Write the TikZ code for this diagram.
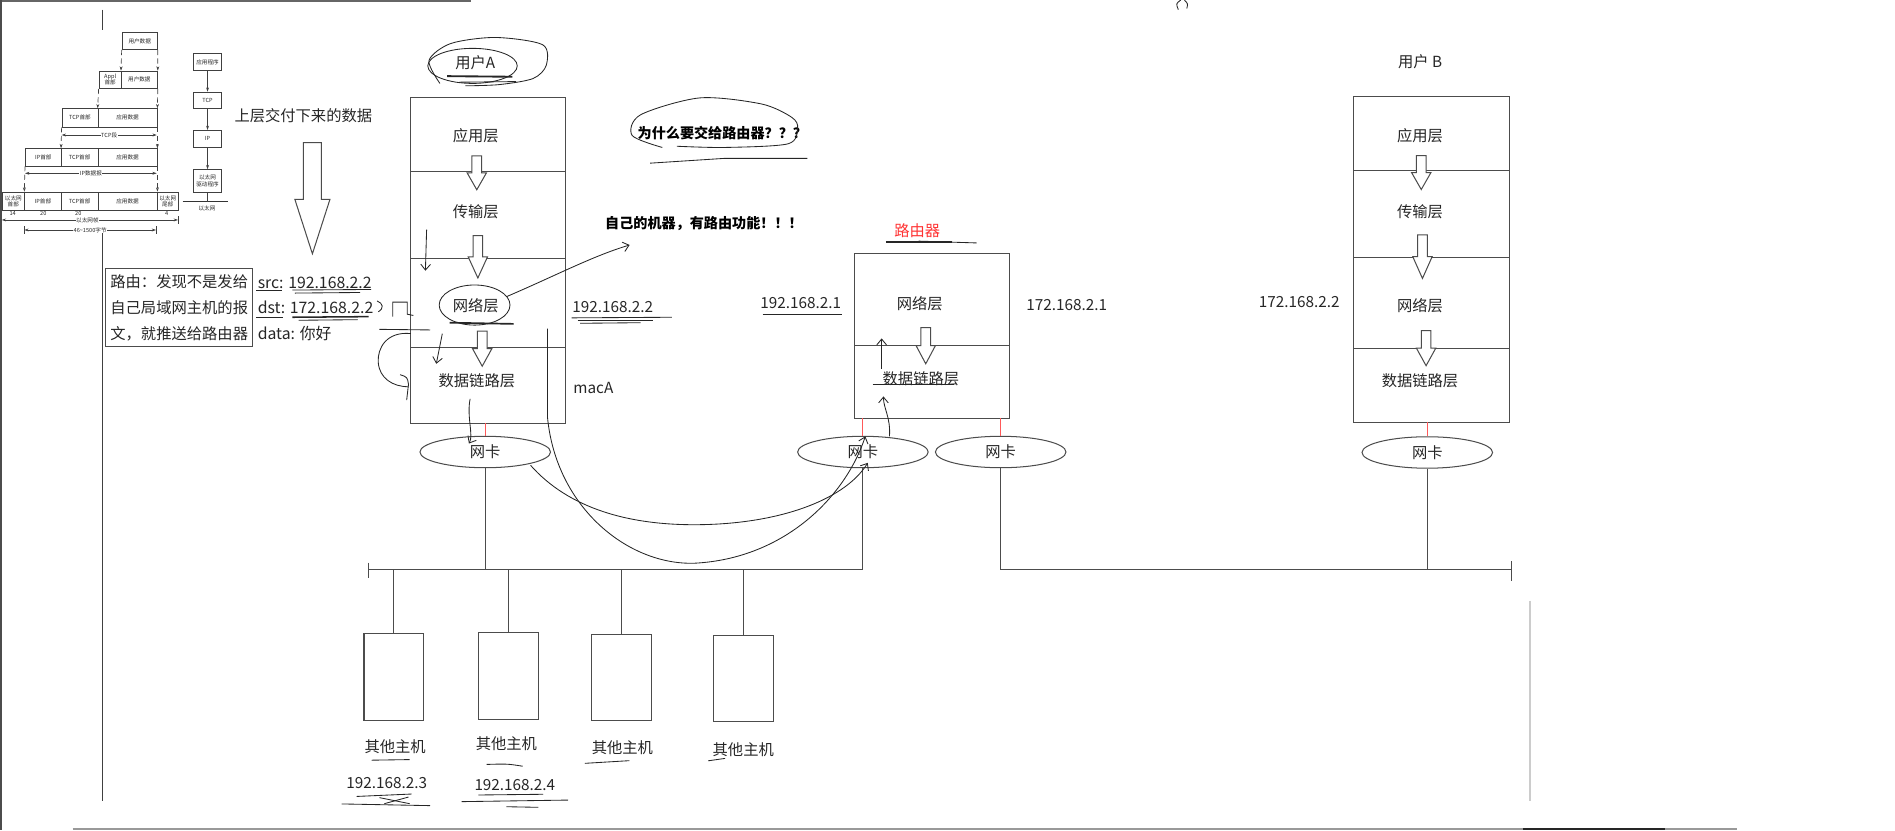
\documentclass[tikz,border=0pt]{standalone}
\usepackage{fontspec}
\setmainfont{Noto Sans CJK SC}
\usetikzlibrary{shapes.geometric,arrows.meta,positioning}

% hollow down arrow between two layers: x, top y, length
\newcommand{\layerarrow}[3]{%
  \draw[hollow] (#1-4,#2) -- (#1+4,#2) -- (#1+4,#2+#3/2) -- (#1+8,#2+#3/2)
    -- (#1,#2+#3) -- (#1-8,#2+#3/2) -- (#1-4,#2+#3/2) -- cycle;}
% one cell of the small encapsulation figure: name, x1, y1, x2, y2, text
\newcommand{\pktcell}[6]{%
  \node[thumb, anchor=north west, minimum width={(#4-#2)*0.025cm},
        minimum height={(#5-#3)*0.025cm}] (#1) at (#2,#3) {#6};}

\begin{document}
\begin{tikzpicture}[
  x=0.025cm, y=-0.025cm,
  every node/.style={font=\fontsize{9}{11}\selectfont, text=black!85},
  layer/.style ={anchor=north west, minimum width=3.2cm, inner sep=0pt},
  nic/.style   ={ellipse, draw=black!70, line width=0.6pt, minimum width=2.7cm, minimum height=0.65cm, inner sep=0pt},
  host/.style  ={draw=black!70, line width=0.6pt, minimum width=1.24cm, minimum height=1.79cm, inner sep=0pt},
  wire/.style  ={draw=black!70, line width=0.6pt},
  nicred/.style={draw=red!65, line width=0.6pt},
  hollow/.style={draw=black!70, line width=0.6pt, fill=white},
  pen/.style   ={draw=black!85, line width=0.5pt},
  penarr/.style={pen, -{Straight Barb[length=1.2mm,width=2mm]}},
  note/.style  ={font=\fontsize{8.3}{10}\selectfont\bfseries, text=black},
  thumb/.style ={draw=black!75, line width=0.4pt, inner sep=0pt, align=center, font=\fontsize{3.3}{3.7}\selectfont},
  thumbtxt/.style={inner sep=0.3pt, font=\fontsize{3.3}{3.7}\selectfont},
  thumbarr/.style={draw=black!75, line width=0.4pt, -{Stealth[length=0.9mm,width=0.6mm]}},
  thumbspan/.style={draw=black!75, line width=0.4pt, {Stealth[length=0.9mm,width=0.6mm]}-{Stealth[length=0.9mm,width=0.6mm]}},
]
\useasboundingbox (0,0) rectangle (1568,687);

%% ---- page frame lines ----
\draw[black!60, line width=0.8pt] (0,0.8) -- (390,0.8);
\draw[black!70, line width=0.8pt] (0.8,0) -- (0.8,687);
\draw[black!75, line width=0.6pt] (84.5,8) -- (84.5,25);
\draw[black!75, line width=0.6pt] (84.5,188) -- (84.5,663);
\draw[black!40, line width=0.8pt] (60,685.8) -- (1437,685.8);
\draw[black!85, line width=0.8pt] (1260,685.8) -- (1378,685.8);
\draw[black!20, line width=1pt] (1266,497) -- (1266,663);

%% ---- small encapsulation figure (top left) ----
\pktcell{ua}{100.7}{26.7}{130}{40.8}{用户数据}
\pktcell{hApp}{81.6}{58.5}{100.1}{73}{Appl\\首部}
\pktcell{ub}{100.1}{58.5}{130}{73}{用户数据}
\pktcell{tcpa}{51}{89.6}{80.8}{104.8}{TCP首部}
\pktcell{appa}{80.8}{89.6}{129.7}{104.8}{应用数据}
\pktcell{ipb}{20.7}{122.7}{50.5}{137}{IP首部}
\pktcell{tcpb}{50.5}{122.7}{80.8}{137}{TCP首部}
\pktcell{appb}{80.8}{122.7}{129.7}{137}{应用数据}
\pktcell{ethh}{1.4}{158.6}{20.1}{173.8}{以太网\\首部}
\pktcell{ipc}{20.1}{158.6}{50.5}{173.8}{IP首部}
\pktcell{tcpc}{50.5}{158.6}{80.8}{173.8}{TCP首部}
\pktcell{appc}{80.8}{158.6}{129.7}{173.8}{应用数据}
\pktcell{etht}{129.7}{158.6}{147.3}{173.8}{以太网\\尾部}

\draw[thumbarr, densely dashed] (ua.south west) -- (ub.north west);
\draw[thumbarr, densely dashed] (ua.south east) -- (ub.north east);
\draw[thumbarr, densely dashed] (hApp.south west) -- (appa.north west);
\draw[thumbarr, densely dashed] (ub.south east) -- (appa.north east);
\draw[thumbarr, densely dashed] (tcpa.south west) -- (tcpb.north west);
\draw[thumbarr, densely dashed] (appa.south east) -- (appb.north east);
\draw[thumbarr, densely dashed] (ipb.south west) -- (ipc.north west);
\draw[thumbarr, densely dashed] (appb.south east) -- (appc.north east);

\draw[thumbspan] (51,111.7) -- (129.7,111.7)
  node[midway, thumbtxt, fill=white] (segTcp) {TCP段};
\draw[thumbspan] (20.7,143.4) -- (129.7,143.4)
  node[midway, thumbtxt, fill=white] (segIp) {IP数据报};
\node[thumbtxt] (n14) at (10.5,176.5) {14};
\node[thumbtxt] (n20a) at (35.8,176.5) {20};
\node[thumbtxt] (n20b) at (64.8,176.5) {20};
\node[thumbtxt] (n4) at (137.9,176.5) {4};
\draw[thumbspan] (1.4,182) -- (147.3,182)
  node[midway, thumbtxt, fill=white, xshift=-0.05cm] (segEth) {以太网帧};
\draw[black!75, line width=0.4pt] (147.3,179) -- (147.3,185.5);
\draw[thumbspan] (20.1,190.3) -- (129.1,190.3)
  node[midway, thumbtxt, fill=white] (segLen) {46\textasciitilde 1500字节};
\draw[black!75, line width=0.4pt] (20.1,187) -- (20.1,193.5);
\draw[black!75, line width=0.4pt] (129.1,187) -- (129.1,193.5);

\pktcell{appl}{160}{44.1}{182.9}{57.9}{应用程序}
\pktcell{tcpm}{160}{75.9}{182.9}{89.6}{TCP}
\pktcell{ipm}{160}{107.6}{182.9}{121.4}{IP}
\pktcell{drv}{160}{140.1}{182.9}{158.6}{以太网\\驱动程序}
\draw[thumbarr] (appl) -- (tcpm);
\draw[thumbarr] (tcpm) -- (ipm);
\draw[thumbarr] (ipm) -- (drv);
\coordinate (ethL) at (151.2,166.9);
\coordinate (ethR) at (188.9,166.9);
\draw[black!80, line width=0.7pt] (ethL) -- (ethR);
\draw[black!75, line width=0.4pt] (drv.south) -- (drv.south |- ethL);
\node[thumbtxt] (ethlbl) at (171.3,172.4) {以太网};

%% ---- data handed down + routing note ----
\node (deliver) at (251,96) {上层交付下来的数据};
\draw[hollow] (251,118) -- (266,118) -- (266,165) -- (273,165) -- (258.5,210)
  -- (244,165) -- (251,165) -- cycle;

\node[draw=black!70, line width=0.6pt, minimum width=3.03cm, minimum height=1.625cm,
      inner sep=0pt, align=left, font=\fontsize{9}{15.2}\selectfont] (route) at (148.3,254.5)
  {路由：发现不是发给\\自己局域网主机的报\\文，就推送给路由器};
\node[anchor=west, align=left, inner sep=0pt, font=\fontsize{9.3}{15.2}\selectfont] (pkt) at (213,255.5)
  {src: 192.168.2.2\\dst: 172.168.2.2\\data: 你好};

%% ---- host A ----
\node (userA) at (393.2,51.6) {用户A};
\node[layer, minimum height=1.5125cm] (appA)  at (339.5,80.8) {};
\node[layer, minimum height=1.785cm]  (tranA) at (appA.south west) {};
\node[layer, minimum height=1.83cm]   (netA)  at (tranA.south west) {};
\node[layer, minimum height=1.55cm]   (linkA) at (netA.south west) {};
\draw[wire] (appA.north west) rectangle (linkA.south east);
\foreach \l in {tranA,netA,linkA} { \draw[wire] (\l.north west) -- (\l.north east); }
\node (tAppA)  at (393.7,112.5) {应用层};
\node (tTranA) at (393.7,175.1) {传输层};
\node (tNetA)  at (393.7,253.2) {网络层};
\node (tLinkA) at (394.6,315.2) {数据链路层};
\layerarrow{394.5}{129}{28}
\layerarrow{395.4}{195}{35}
\layerarrow{399}{274}{29}
\node (ipA)  at (507,253.7) {192.168.2.2};
\node (macA) at (491,321.3) {macA};
\node[nic] (nicA) at (401.5,374) {网卡};

%% ---- router ----
\node[text=red!80] (rtr) at (759,191) {路由器};
\node[layer, minimum height=1.8825cm] (netR)  at (707,209.6) {};
\node[layer, minimum height=1.4975cm] (linkR) at (netR.south west) {};
\draw[wire] (netR.north west) rectangle (linkR.south east);
\draw[wire] (linkR.north west) -- (linkR.north east);
\node (tNetR)  at (761,251) {网络层};
\node (tLinkR) at (762,313) {数据链路层};
\layerarrow{766}{271}{30}
\node (ipR1) at (662.6,251) {192.168.2.1};
\node (ipR2) at (882.6,252.4) {172.168.2.1};
\node[nic] (nicR1) at (714,374) {网卡};
\node[nic] (nicR2) at (828,374) {网卡};

%% ---- host B ----
\node (userB) at (1175,51) {用户 B};
\node[layer, minimum height=1.5175cm] (appB)  at (1120.3,80) {};
\node[layer, minimum height=1.7775cm] (tranB) at (appB.south west) {};
\node[layer, minimum height=1.875cm]  (netB)  at (tranB.south west) {};
\node[layer, minimum height=1.505cm]  (linkB) at (netB.south west) {};
\draw[wire] (appB.north west) rectangle (linkB.south east);
\foreach \l in {tranB,netB,linkB} { \draw[wire] (\l.north west) -- (\l.north east); }
\node (tAppB)  at (1175,112.3) {应用层};
\node (tTranB) at (1175,175.1) {传输层};
\node (tNetB)  at (1175,252.9) {网络层};
\node (tLinkB) at (1175,315) {数据链路层};
\layerarrow{1176}{128.8}{28}
\layerarrow{1177}{194.4}{36}
\layerarrow{1180}{273.6}{29}
\node (ipB) at (1075,249.6) {172.168.2.2};
\node[nic] (nicB) at (1181,374.4) {网卡};

%% ---- links and buses ----
\draw[nicred] (nicA.north |- linkA.south) -- (nicA.north);
\draw[nicred] (nicR1.north |- linkR.south) -- (nicR1.north);
\draw[nicred] (nicR2.north |- linkR.south) -- (nicR2.north);
\draw[nicred] (nicB.north |- linkB.south) -- (nicB.north);

\coordinate (busL1) at (305,471.5);
\coordinate (busL2) at (714,471.5);
\coordinate (busR1) at (828,471.5);
\coordinate (busR2) at (1251,471.5);
\draw[wire] (busL1) -- (busL2);
\draw[wire] (busL1) +(0,-6) -- +(0,7);
\draw[wire] (busR1) -- (busR2);
\draw[wire] (busR2) +(0,-7) -- +(0,9);
\draw[wire] (nicA.south) -- (nicA.south |- busL1);
\draw[wire] (nicR1.south) -- (busL2);
\draw[wire] (nicR2.south) -- (busR1);
\draw[wire] (nicB.south) -- (nicB.south |- busR1);

%% ---- other hosts on the LAN ----
\node[host] (oh1) at (326,560) {};
\node[host] (oh2) at (420.6,559.3) {};
\node[host] (oh3) at (514.4,560.5) {};
\node[host] (oh4) at (615,561.4) {};
\foreach \h in {oh1,oh2,oh3,oh4} { \draw[wire] (\h.north) -- (\h.north |- busL1); }
\node (loh1) at (327,618) {其他主机};
\node (loh2) at (419,615.5) {其他主机};
\node (loh3) at (515,619) {其他主机};
\node (loh4) at (615,620.6) {其他主机};
\node (ip3) at (320,648) {192.168.2.3};
\node (ip4) at (426,649.5) {192.168.2.4};

%% ---- questions ----
\node[note] (why) at (597.7,110.3) {为什么要交给路由器？？？};
\node[note] (own) at (582.5,184.8) {自己的机器，有路由功能！！！};

%% ---- hand-drawn marks ----
\draw[pen] (391,54.5) ellipse [x radius=37, y radius=14.5];
\draw[pen] plot[smooth] coordinates {(364,69) (355,50) (373,36) (410,31) (449,37) (452,54) (441,65) (413,70) (385,71)};
\draw[pen, line width=1.1pt] (370,63) -- (424,63.5);
\draw[pen] (380,68) -- (427,67.5);

\draw[pen] plot[smooth] coordinates {(548,122) (523,112) (530,95) (579,81) (630,86) (655,97) (660,106) (652,119) (600,122) (560,121)};
\draw[pen] (538,135) -- (600,131) -- (668,131);

\draw[pen] (392.7,252.4) ellipse [x radius=29.3, y radius=16.6];
\draw[pen, line width=1pt] (372,267) -- (425,268);
\draw[penarr] (419,245.5) .. controls (460,228) and (490,212) .. (521,202.7);

\draw[penarr] (453,272) -- (453,345) .. controls (460,420) and (520,468) .. (575,466)
  .. controls (650,462) and (700,410) .. (716,361);
\draw[penarr] (439,385) .. controls (470,420) and (520,436) .. (585,434)
  .. controls (650,432) and (700,412) .. (718,383);

\draw[penarr] (736,361) .. controls (737,345) and (731,338) .. (731,328);
\draw[penarr] (729.5,305) -- (729.5,280);
\draw[pen] (722,318) -- (789,318);

\draw[penarr] (353,190) -- (352,224);
\draw[penarr] (366,276) -- (361,301);
\draw[penarr] (389,330) .. controls (386,345) and (392,360) .. (388,367);
\draw[pen] (314,272.5) -- (356,273);
\draw[pen] (340,276) .. controls (320,274) and (312,288) .. (313,300)
  .. controls (314,313) and (325,320) .. (338,320);
\draw[pen] (331,310) .. controls (337,312) .. (338,318) -- (336.5,331);
\draw[pen] (312,249) .. controls (317,251) and (318,255) .. (313,258);
\draw[pen] (325,262) -- (325,250) -- (337,250) -- (337,260) -- (342,261);

\draw[pen] (212,240.5) -- (233,240.5);
\draw[pen] (242,240) -- (307,239.5);
\draw[pen] (244,242.5) -- (298,242);
\draw[pen] (212,262.5) -- (234,262.5);
\draw[pen, line width=0.9pt] (242,262.5) -- (305,262);
\draw[pen] (247,265) -- (296,264.5);

\draw[pen] (473,263) -- (556,262.5);
\draw[pen, line width=0.9pt] (478,265) -- (540,265);
\draw[pen] (480,267.5) -- (530,267);
\draw[pen] (631,260.5) -- (697,260.5);
\draw[pen, line width=1.2pt] (733,200.5) -- (788,200.5);
\draw[pen] (760,199.5) -- (808,201);

\draw[pen] (307.5,629) -- (339,628.5);
\draw[pen] (402.7,632.5) .. controls (420,632) .. (432.5,634);
\draw[pen] (484,631.6) -- (520.7,629.4);
\draw[pen] (586,629.5) -- (600,627.5);
\draw[pen] (295,659) -- (340.6,657);
\draw[pen] (282.7,665.2) -- (355.8,666.6);
\draw[pen] (314,660) -- (339,665);
\draw[pen] (318,665) -- (338,659.5);
\draw[pen] (395.8,657.8) -- (449.5,657.2);
\draw[pen] (382,663.3) -- (470,662);
\draw[pen] (419,667.5) -- (445.4,668);

\draw[pen] (977,0) .. controls (973,3) .. (975,8);
\draw[pen] (980,0) .. controls (983,3) .. (982,7);

\end{tikzpicture}
\end{document}
